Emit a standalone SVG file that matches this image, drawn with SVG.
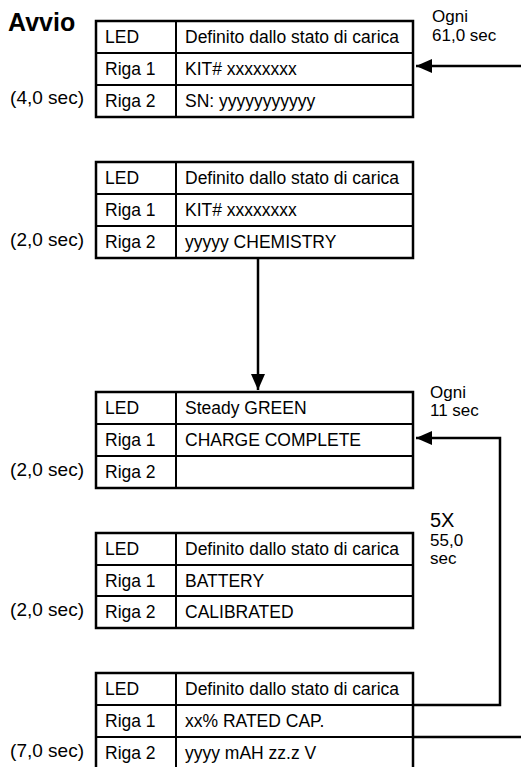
<svg xmlns="http://www.w3.org/2000/svg" width="521" height="767" viewBox="0 0 521 767">
<defs>
<style>
text{font-family:"Liberation Sans",Arial,sans-serif;font-size:17.5px;fill:#000}
.s{font-size:19px;text-anchor:end}
.n{font-size:17px}
.b{font-weight:bold;font-size:25px}
.big{font-size:20px}
.box{fill:#fff;stroke:#000;stroke-width:2.5}
.ln{fill:none;stroke:#000;stroke-width:2}
.c{fill:none;stroke:#000;stroke-width:2.5}
</style>
<marker id="ah" viewBox="0 0 16 14" refX="16" refY="7" markerWidth="16" markerHeight="14" markerUnits="userSpaceOnUse" orient="auto">
<path d="M0,0 L16,7 L0,14 Z" fill="#000"/>
</marker>
</defs>
<rect width="521" height="767" fill="#fff"/>
<text class="b" x="8" y="31">Avvio</text>
<text class="n" x="432" y="22">Ogni</text>
<text class="n" x="432" y="41">61,0 sec</text>
<text class="n" x="430" y="398">Ogni</text>
<text class="n" x="430" y="416">11 sec</text>
<text class="big" x="430" y="527">5X</text>
<text class="n" x="430" y="546">55,0</text>
<text class="n" x="430" y="564">sec</text>

<g id="connectors">
<path class="c" d="M521,66 H416" marker-end="url(#ah)"/>
<path class="c" d="M258,258 V390" marker-end="url(#ah)"/>
<path class="c" d="M413,705 H500 V438 H416" marker-end="url(#ah)"/>
<path class="c" d="M413,737 H521"/>
</g>

<g id="node1">
<rect class="box" x="96" y="21" width="317" height="96"/>
<path class="ln" d="M96,53 H413 M96,85 H413 M176,21 V117"/>
<text x="105" y="43">LED</text><text x="185" y="43">Definito dallo stato di carica</text>
<text x="105" y="75">Riga 1</text><text x="185" y="75">KIT# xxxxxxxx</text>
<text x="105" y="107">Riga 2</text><text x="185" y="107">SN: yyyyyyyyyyy</text>
<text class="s" x="84" y="104">(4,0 sec)</text>
</g>

<g id="node2">
<rect class="box" x="96" y="162" width="317" height="96"/>
<path class="ln" d="M96,194 H413 M96,226 H413 M176,162 V258"/>
<text x="105" y="184">LED</text><text x="185" y="184">Definito dallo stato di carica</text>
<text x="105" y="216">Riga 1</text><text x="185" y="216">KIT# xxxxxxxx</text>
<text x="105" y="248">Riga 2</text><text x="185" y="248">yyyyy CHEMISTRY</text>
<text class="s" x="84" y="246">(2,0 sec)</text>
</g>

<g id="node3">
<rect class="box" x="96" y="392" width="317" height="96"/>
<path class="ln" d="M96,424 H413 M96,456 H413 M176,392 V488"/>
<text x="105" y="414">LED</text><text x="185" y="414">Steady GREEN</text>
<text x="105" y="446">Riga 1</text><text x="185" y="446">CHARGE COMPLETE</text>
<text x="105" y="478">Riga 2</text>
<text class="s" x="84" y="476">(2,0 sec)</text>
</g>

<g id="node4">
<rect class="box" x="96" y="533" width="317" height="95"/>
<path class="ln" d="M96,565 H413 M96,596 H413 M176,533 V628"/>
<text x="105" y="555">LED</text><text x="185" y="555">Definito dallo stato di carica</text>
<text x="105" y="587">Riga 1</text><text x="185" y="587">BATTERY</text>
<text x="105" y="618">Riga 2</text><text x="185" y="618">CALIBRATED</text>
<text class="s" x="84" y="616">(2,0 sec)</text>
</g>

<g id="node5">
<rect class="box" x="96" y="673" width="317" height="96"/>
<path class="ln" d="M96,705 H413 M96,737 H413 M176,673 V769"/>
<text x="105" y="695">LED</text><text x="185" y="695">Definito dallo stato di carica</text>
<text x="105" y="727">Riga 1</text><text x="185" y="727">xx% RATED CAP.</text>
<text x="105" y="759">Riga 2</text><text x="185" y="759">yyyy mAH zz.z V</text>
<text class="s" x="84" y="757">(7,0 sec)</text>
</g>
</svg>
